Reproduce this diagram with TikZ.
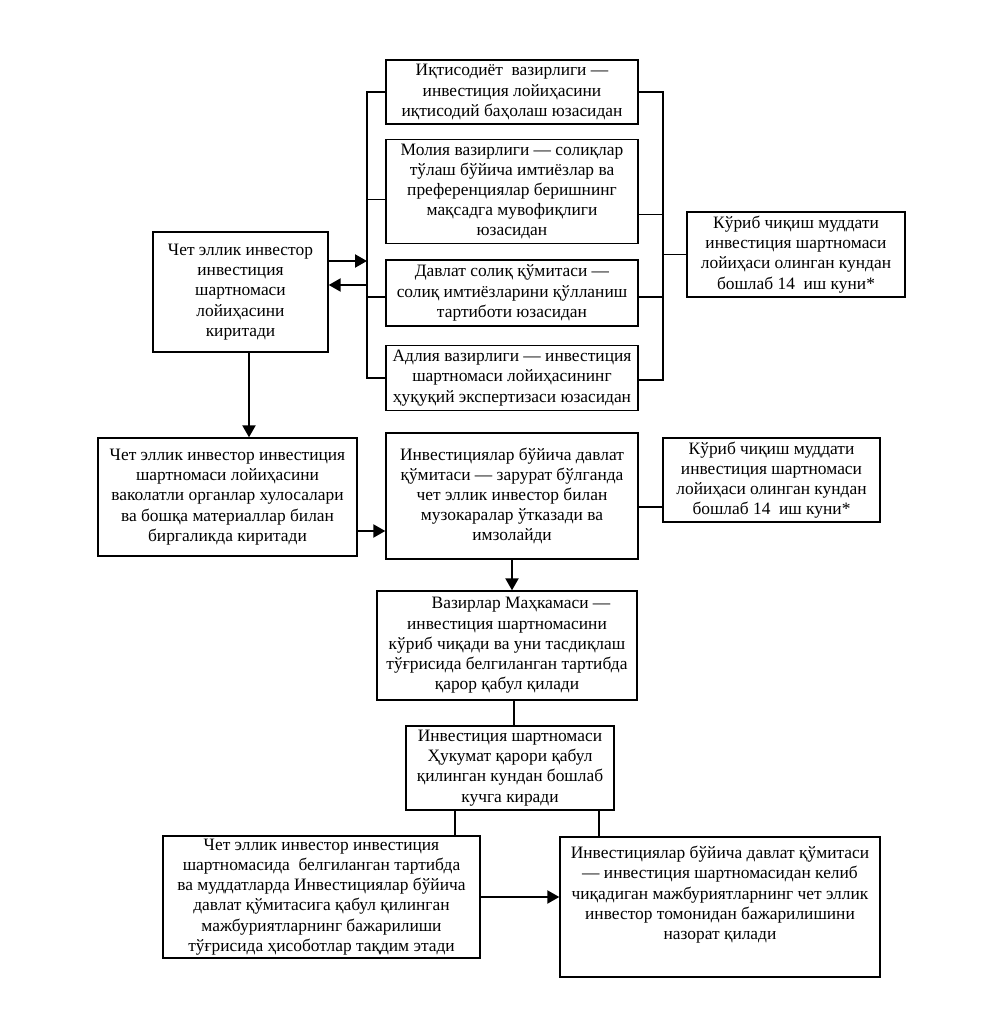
\documentclass[tikz,border=0pt]{standalone}
\usepackage{fontspec}
\setmainfont{Liberation Serif}
\usetikzlibrary{arrows.meta}
\begin{document}
\begin{tikzpicture}[x=1pt,y=-1pt,
  box/.style={draw,line width=1.4pt,align=center,inner sep=2pt,
    font=\fontsize{17.4}{20.2}\selectfont},
  conn/.style={line width=1.5pt},
  arr/.style={line width=2.2pt,-{Triangle[length=12pt,width=13pt]}}]
\useasboundingbox (0,0) rectangle (985,1018);
\node[box,minimum width=252pt,minimum height=64pt] (A1) at (512,92)
  {Иқтисодиёт~ вазирлиги —\\ инвестиция лойиҳасини\\ иқтисодий баҳолаш юзасидан};
\node[box,minimum width=252pt,minimum height=104pt] (A2) at (512,191.5)
  {Молия вазирлиги — солиқлар\\ тўлаш бўйича имтиёзлар ва\\ преференциялар беришнинг\\ мақсадга мувофиқлиги\\ юзасидан};
\node[box,minimum width=252pt,minimum height=66pt] (A3) at (512,293)
  {Давлат солиқ қўмитаси —\\ солиқ имтиёзларини қўлланиш\\ тартиботи юзасидан};
\node[box,minimum width=252pt,minimum height=65pt] (A4) at (512,378)
  {Адлия вазирлиги — инвестиция\\ шартномаси лойиҳасининг\\ ҳуқуқий экспертизаси юзасидан};
\node[box,minimum width=175pt,minimum height=120pt] (L1) at (240.5,292)
  {Чет эллик инвестор\\ инвестиция\\ шартномаси\\ лойиҳасини\\ киритади};
\node[box,minimum width=218pt,minimum height=85pt] (R1) at (796,254.5)
  {Кўриб чиқиш муддати\\ инвестиция шартномаси\\ лойиҳаси олинган кундан\\ бошлаб 14~ иш куни*};
\node[box,minimum width=259pt,minimum height=118pt] (L2) at (227.5,497)
  {Чет эллик инвестор инвестиция\\ шартномаси лойиҳасини\\ ваколатли органлар хулосалари\\ ва бошқа материаллар билан\\ биргаликда киритади};
\node[box,minimum width=252pt,minimum height=126pt] (M1) at (512,496)
  {Инвестициялар бўйича давлат\\ қўмитаси — зарурат бўлганда\\ чет эллик инвестор билан\\ музокаралар ўтказади ва\\ имзолайди};
\node[box,minimum width=217pt,minimum height=84pt] (R2) at (771.5,480)
  {Кўриб чиқиш муддати\\ инвестиция шартномаси\\ лойиҳаси олинган кундан\\ бошлаб 14~ иш куни*};
\node[box,minimum width=260pt,minimum height=109pt] (M2) at (507,645.5)
  {\hspace*{28pt}Вазирлар Маҳкамаси —\\ инвестиция шартномасини\\ кўриб чиқади ва уни тасдиқлаш\\ тўғрисида белгиланган тартибда\\ қарор қабул қилади};
\node[box,minimum width=208pt,minimum height=84pt] (M3) at (510,768)
  {Инвестиция шартномаси\\ Ҳукумат қарори қабул\\ қилинган кундан бошлаб\\ кучга киради};
\node[box,minimum width=317pt,minimum height=122pt] (L3) at (321.5,897)
  {Чет эллик инвестор инвестиция\\ шартномасида~ белгиланган тартибда\\ ва муддатларда Инвестициялар бўйича\\ давлат қўмитасига қабул қилинган\\ мажбуриятларнинг бажарилиши\\ тўғрисида ҳисоботлар тақдим этади};
\node[box,minimum width=320pt,minimum height=140pt] (R3) at (720,907)
  {Инвестициялар бўйича давлат қўмитаси\\ — инвестиция шартномасидан келиб\\ чиқадиган мажбуриятларнинг чет эллик\\ инвестор томонидан бажарилишини\\ назорат қилади\\[8pt]};
% brackets
\coordinate (lx) at (367,0);
\coordinate (rx) at (663,0);
\draw[conn] (A1.west) -- (A1.west -| lx) -- (A4.west -| lx) -- (A4.west);
\draw[conn] ([yshift=-8pt]A2.west) -- ([yshift=-8pt]A2.west -| lx);
\draw[conn] ([yshift=-4pt]A3.west) -- ([yshift=-4pt]A3.west -| lx);
\draw[conn] (A1.east) -- (A1.east -| rx) -- ([yshift=-2pt]A4.east -| rx) -- ([yshift=-2pt]A4.east);
\draw[conn] ([yshift=-23pt]A2.east) -- ([yshift=-23pt]A2.east -| rx);
\draw[conn] ([yshift=-4pt]A3.east) -- ([yshift=-4pt]A3.east -| rx);
\draw[conn] (R1.west) -- (R1.west -| rx);
% arrows L1 <-> bracket
\draw[arr] ([yshift=31pt]L1.east) -- ([yshift=31pt]L1.east -| lx);
\draw[arr] ([yshift=7pt]L1.east -| lx) -- ([yshift=7pt]L1.east);
% vertical flow
\draw[arr] ([xshift=8.5pt]L1.south) -- ([xshift=8.5pt]L1.south |- L2.north);
\draw[arr] ([yshift=-34pt]L2.east) -- ([yshift=-34pt]L2.east -| M1.west);
\draw[conn] ([yshift=-11pt]M1.east) -- ([yshift=-11pt]M1.east -| R2.west);
\draw[arr] (M1.south) -- (M1.south |- M2.north);
\draw[conn] ([xshift=4pt]M3.north) -- ([xshift=4pt]M3.north |- M2.south);
\draw[conn] ([xshift=-55pt]M3.south) -- ([xshift=-55pt]M3.south |- L3.north);
\draw[conn] ([xshift=89pt]M3.south) -- ([xshift=89pt,yshift=-2pt]M3.south |- R3.north);
\draw[arr] (L3.east) -- (L3.east -| R3.west);
\end{tikzpicture}
\end{document}
